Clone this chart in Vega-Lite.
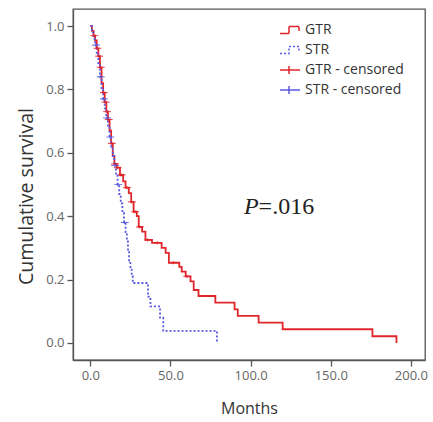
{
  "$schema": "https://vega.github.io/schema/vega-lite/v6.json",
  "width": 352,
  "height": 351,
  "autosize": {"type": "none"},
  "padding": {"left": 73, "top": 9, "right": 8, "bottom": 62},
  "background": "white",
  "datasets": {
    "curves": [
      {"group": "GTR", "label": "GTR", "months": 0, "survival": 1.0},
      {"group": "GTR", "label": "GTR", "months": 1, "survival": 0.985},
      {"group": "GTR", "label": "GTR", "months": 2, "survival": 0.97},
      {"group": "GTR", "label": "GTR", "months": 3, "survival": 0.955},
      {"group": "GTR", "label": "GTR", "months": 4, "survival": 0.93},
      {"group": "GTR", "label": "GTR", "months": 5, "survival": 0.905},
      {"group": "GTR", "label": "GTR", "months": 6, "survival": 0.87},
      {"group": "GTR", "label": "GTR", "months": 7, "survival": 0.82},
      {"group": "GTR", "label": "GTR", "months": 8, "survival": 0.79},
      {"group": "GTR", "label": "GTR", "months": 9, "survival": 0.76},
      {"group": "GTR", "label": "GTR", "months": 10, "survival": 0.73},
      {"group": "GTR", "label": "GTR", "months": 11, "survival": 0.705},
      {"group": "GTR", "label": "GTR", "months": 12, "survival": 0.67},
      {"group": "GTR", "label": "GTR", "months": 13, "survival": 0.63},
      {"group": "GTR", "label": "GTR", "months": 14, "survival": 0.59},
      {"group": "GTR", "label": "GTR", "months": 15, "survival": 0.565},
      {"group": "GTR", "label": "GTR", "months": 16.5, "survival": 0.553},
      {"group": "GTR", "label": "GTR", "months": 18.5, "survival": 0.53},
      {"group": "GTR", "label": "GTR", "months": 20.5, "survival": 0.51},
      {"group": "GTR", "label": "GTR", "months": 22, "survival": 0.49},
      {"group": "GTR", "label": "GTR", "months": 24, "survival": 0.473},
      {"group": "GTR", "label": "GTR", "months": 25.5, "survival": 0.445},
      {"group": "GTR", "label": "GTR", "months": 27, "survival": 0.414},
      {"group": "GTR", "label": "GTR", "months": 29, "survival": 0.4},
      {"group": "GTR", "label": "GTR", "months": 30.2, "survival": 0.366},
      {"group": "GTR", "label": "GTR", "months": 32.3, "survival": 0.351},
      {"group": "GTR", "label": "GTR", "months": 34.4, "survival": 0.325},
      {"group": "GTR", "label": "GTR", "months": 38.5, "survival": 0.316},
      {"group": "GTR", "label": "GTR", "months": 44.5, "survival": 0.3},
      {"group": "GTR", "label": "GTR", "months": 47, "survival": 0.284},
      {"group": "GTR", "label": "GTR", "months": 49, "survival": 0.253},
      {"group": "GTR", "label": "GTR", "months": 55.5, "survival": 0.24},
      {"group": "GTR", "label": "GTR", "months": 57, "survival": 0.225},
      {"group": "GTR", "label": "GTR", "months": 59.5, "survival": 0.21},
      {"group": "GTR", "label": "GTR", "months": 62.5, "survival": 0.194},
      {"group": "GTR", "label": "GTR", "months": 64.5, "survival": 0.167},
      {"group": "GTR", "label": "GTR", "months": 67.5, "survival": 0.148},
      {"group": "GTR", "label": "GTR", "months": 78, "survival": 0.127},
      {"group": "GTR", "label": "GTR", "months": 90, "survival": 0.106},
      {"group": "GTR", "label": "GTR", "months": 92, "survival": 0.085},
      {"group": "GTR", "label": "GTR", "months": 105, "survival": 0.064},
      {"group": "GTR", "label": "GTR", "months": 120, "survival": 0.043},
      {"group": "GTR", "label": "GTR", "months": 176, "survival": 0.021},
      {"group": "GTR", "label": "GTR", "months": 191, "survival": 0.0},
      {"group": "STR", "label": "STR", "months": 0, "survival": 1.0},
      {"group": "STR", "label": "STR", "months": 1, "survival": 0.98},
      {"group": "STR", "label": "STR", "months": 2, "survival": 0.96},
      {"group": "STR", "label": "STR", "months": 3, "survival": 0.94},
      {"group": "STR", "label": "STR", "months": 4, "survival": 0.91},
      {"group": "STR", "label": "STR", "months": 5, "survival": 0.88},
      {"group": "STR", "label": "STR", "months": 6, "survival": 0.84},
      {"group": "STR", "label": "STR", "months": 7, "survival": 0.8},
      {"group": "STR", "label": "STR", "months": 8, "survival": 0.77},
      {"group": "STR", "label": "STR", "months": 9, "survival": 0.74},
      {"group": "STR", "label": "STR", "months": 10, "survival": 0.71},
      {"group": "STR", "label": "STR", "months": 11, "survival": 0.68},
      {"group": "STR", "label": "STR", "months": 12, "survival": 0.65},
      {"group": "STR", "label": "STR", "months": 13, "survival": 0.62},
      {"group": "STR", "label": "STR", "months": 14, "survival": 0.59},
      {"group": "STR", "label": "STR", "months": 15, "survival": 0.56},
      {"group": "STR", "label": "STR", "months": 16, "survival": 0.53},
      {"group": "STR", "label": "STR", "months": 17, "survival": 0.5},
      {"group": "STR", "label": "STR", "months": 18, "survival": 0.47},
      {"group": "STR", "label": "STR", "months": 19, "survival": 0.44},
      {"group": "STR", "label": "STR", "months": 20, "survival": 0.41},
      {"group": "STR", "label": "STR", "months": 21, "survival": 0.38},
      {"group": "STR", "label": "STR", "months": 22, "survival": 0.35},
      {"group": "STR", "label": "STR", "months": 22.8, "survival": 0.32},
      {"group": "STR", "label": "STR", "months": 23.5, "survival": 0.29},
      {"group": "STR", "label": "STR", "months": 24.2, "survival": 0.26},
      {"group": "STR", "label": "STR", "months": 25, "survival": 0.235},
      {"group": "STR", "label": "STR", "months": 25.8, "survival": 0.21},
      {"group": "STR", "label": "STR", "months": 26.5, "survival": 0.189},
      {"group": "STR", "label": "STR", "months": 36, "survival": 0.146},
      {"group": "STR", "label": "STR", "months": 37.5, "survival": 0.115},
      {"group": "STR", "label": "STR", "months": 43.5, "survival": 0.08},
      {"group": "STR", "label": "STR", "months": 45.5, "survival": 0.038},
      {"group": "STR", "label": "STR", "months": 79, "survival": 0.0}
    ],
    "censored": [
      {"label": "GTR - censored", "months": 2.5, "survival": 0.97},
      {"label": "GTR - censored", "months": 4.5, "survival": 0.93},
      {"label": "GTR - censored", "months": 5.5, "survival": 0.905},
      {"label": "GTR - censored", "months": 6.5, "survival": 0.87},
      {"label": "GTR - censored", "months": 8.5, "survival": 0.79},
      {"label": "GTR - censored", "months": 9.5, "survival": 0.76},
      {"label": "GTR - censored", "months": 10.5, "survival": 0.73},
      {"label": "GTR - censored", "months": 11.5, "survival": 0.705},
      {"label": "GTR - censored", "months": 13.5, "survival": 0.63},
      {"label": "GTR - censored", "months": 15.5, "survival": 0.565},
      {"label": "GTR - censored", "months": 17, "survival": 0.553},
      {"label": "GTR - censored", "months": 19.5, "survival": 0.53},
      {"label": "GTR - censored", "months": 23, "survival": 0.49},
      {"label": "GTR - censored", "months": 26, "survival": 0.445},
      {"label": "GTR - censored", "months": 28, "survival": 0.414},
      {"label": "GTR - censored", "months": 31, "survival": 0.366},
      {"label": "GTR - censored", "months": 36, "survival": 0.325},
      {"label": "GTR - censored", "months": 42, "survival": 0.316},
      {"label": "GTR - censored", "months": 52, "survival": 0.253},
      {"label": "GTR - censored", "months": 60.5, "survival": 0.21},
      {"label": "STR - censored", "months": 3.5, "survival": 0.94},
      {"label": "STR - censored", "months": 6.5, "survival": 0.84},
      {"label": "STR - censored", "months": 8.5, "survival": 0.77},
      {"label": "STR - censored", "months": 10.5, "survival": 0.71},
      {"label": "STR - censored", "months": 12.5, "survival": 0.65},
      {"label": "STR - censored", "months": 15.5, "survival": 0.56},
      {"label": "STR - censored", "months": 17.5, "survival": 0.5},
      {"label": "STR - censored", "months": 21.5, "survival": 0.38}
    ],
    "annot": [
      {"months": 105, "survival": 0.43, "p": "P", "rest": "=.016"}
    ]
  },
  "encoding": {
    "x": {
      "field": "months", "type": "quantitative",
      "scale": {"domain": [-10.8, 208.8], "nice": false, "zero": false},
      "axis": {"title": "Months", "values": [0, 50, 100, 150, 200], "format": ".1f", "grid": false, "titlePadding": 18}
    },
    "y": {
      "field": "survival", "type": "quantitative",
      "scale": {"domain": [-0.054, 1.054], "nice": false, "zero": false},
      "axis": {"title": "Cumulative survival", "values": [0, 0.2, 0.4, 0.6, 0.8, 1.0], "format": ".1f", "grid": false, "titlePadding": 9, "titleFontSize": 19.5, "titleY": 187}
    }
  },
  "layer": [
    {
      "data": {"name": "curves"},
      "mark": {"type": "line", "interpolate": "step-after", "strokeWidth": 1.8},
      "encoding": {
        "detail": {"field": "group"},
        "color": {"field": "label", "type": "nominal",
          "scale": {"domain": ["GTR", "STR", "GTR - censored", "STR - censored"], "range": ["#e0262b", "#5a5ae0", "#e0262b", "#5a5ae0"]}},
        "strokeDash": {"field": "label", "type": "nominal",
          "scale": {"domain": ["GTR", "STR", "GTR - censored", "STR - censored"], "range": [[1, 0], [2, 2], [1, 0], [1, 0]]}}
      }
    },
    {
      "data": {"name": "censored"},
      "mark": {"type": "point", "filled": false, "strokeWidth": 1, "size": 60, "opacity": 1},
      "encoding": {
        "color": {"field": "label", "type": "nominal",
          "scale": {"domain": ["GTR", "STR", "GTR - censored", "STR - censored"], "range": ["#e0262b", "#5a5ae0", "#e0262b", "#5a5ae0"]}},
        "shape": {"field": "label", "type": "nominal",
          "scale": {"domain": ["GTR", "STR", "GTR - censored", "STR - censored"], "range": ["M-1,0.35H-0.1V-0.35H0.9V0.1", "M-1,0.35H-0.1V-0.35H0.9V0.1", "M-1,0H1M-0.1,-0.4V0.4", "M-1,0H1M-0.1,-0.4V0.4"]}},
        "strokeDash": {"field": "label", "type": "nominal",
          "scale": {"domain": ["GTR", "STR", "GTR - censored", "STR - censored"], "range": [[1, 0], [2, 2], [1, 0], [1, 0]]}}
      }
    },
    {
      "data": {"name": "annot"},
      "mark": {"type": "text", "font": "Liberation Serif", "fontSize": 24, "fontStyle": "italic", "align": "right", "baseline": "middle", "color": "#222"},
      "encoding": {
        "text": {"field": "p"}
      }
    },
    {
      "data": {"name": "annot"},
      "mark": {"type": "text", "font": "Liberation Serif", "fontSize": 24, "align": "left", "baseline": "middle", "color": "#222"},
      "encoding": {
        "text": {"field": "rest"}
      }
    }
  ],
  "config": {
    "view": {"stroke": "#555", "strokeWidth": 1.3},
    "font": "Open Sans",
    "axis": {
      "domainColor": "#555", "domainWidth": 1.3, "tickColor": "#555", "tickWidth": 1.3, "tickSize": 6,
      "labelFont": "Open Sans", "labelFontSize": 13, "labelColor": "#666", "labelPadding": 3,
      "titleFont": "Open Sans", "titleFontSize": 16, "titleFontWeight": "normal", "titleColor": "#333"
    },
    "legend": {
      "orient": "none", "legendX": 206, "legendY": 10, "title": null,
      "labelFont": "Open Sans", "labelFontSize": 14, "labelColor": "#333",
      "symbolSize": 400, "symbolStrokeWidth": 1.5, "labelOffset": 4, "rowPadding": 2,
      "padding": 0
    }
  }
}
